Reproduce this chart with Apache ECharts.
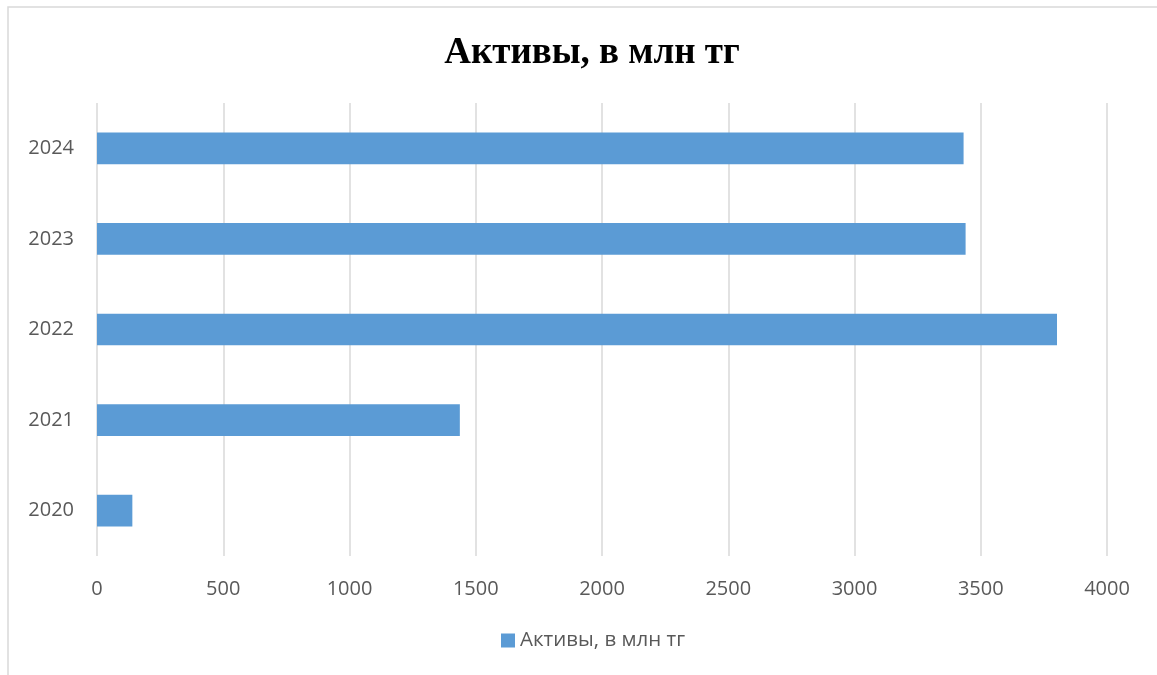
<!DOCTYPE html>
<html>
<head>
<meta charset="utf-8">
<script src="https://cdn.jsdelivr.net/npm/echarts@6/dist/echarts.min.js"></script>
<style>
html,body{margin:0;padding:0;background:#fff;}
#chart{width:1157px;height:675px;}
</style>
</head>
<body>
<div id="chart"></div>
<script>
const categories = ['2020', '2021', '2022', '2023', '2024'];
const values = [140, 1437, 3802, 3440, 3432];
const xTicks = [0, 500, 1000, 1500, 2000, 2500, 3000, 3500, 4000];
const seriesName = 'Активы, в млн тг';

const chart = echarts.init(document.getElementById('chart'));
chart.setOption({
  backgroundColor: '#fff',
  animation: false,
  title: {
    text: 'Активы, в млн тг',
    left: 587,
    textAlign: 'center',
    top: 30,
    textStyle: {fontFamily: 'Liberation Serif', fontWeight: 'bold', fontSize: 37, color: '#000'}
  },
  legend: {
    data: [seriesName],
    bottom: 19,
    left: 496,
    itemWidth: 14,
    itemHeight: 14,
    itemGap: 6,
    icon: 'rect',
    textStyle: {fontFamily: 'Open Sans', fontSize: 20.5, color: '#595959'}
  },
  graphic: [{
    type: 'rect',
    shape: {x: 8, y: 7, width: 1170, height: 690},
    style: {fill: 'none', stroke: '#d9d9d9', lineWidth: 1.5},
    silent: true
  }],
  grid: {left: 97, right: 50, top: 103, bottom: 119, containLabel: false},
  xAxis: {
    type: 'value',
    min: xTicks[0],
    max: xTicks[xTicks.length - 1],
    interval: 500,
    axisLine: {show: false},
    axisTick: {show: false},
    axisLabel: {fontFamily: 'Open Sans', fontSize: 20, color: '#595959', margin: 23, formatter: v => String(v)},
    splitLine: {show: true, lineStyle: {color: '#d9d9d9', width: 1.5}}
  },
  yAxis: {
    type: 'category',
    data: categories,
    axisLine: {show: false},
    axisTick: {show: false},
    axisLabel: {fontFamily: 'Open Sans', fontSize: 20, color: '#595959', margin: 23}
  },
  series: [{
    name: seriesName,
    type: 'bar',
    data: values,
    barCategoryGap: '65%',
    itemStyle: {color: '#5B9BD5'}
  }]
});
</script>
</body>
</html>
